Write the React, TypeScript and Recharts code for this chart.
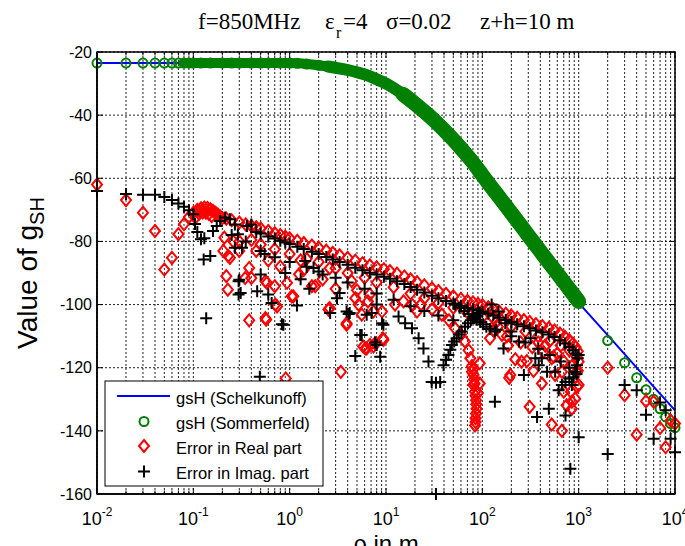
import React from "react";
import { ComposedChart, Line, Scatter, XAxis, YAxis, CartesianGrid } from "recharts";

// plot box (px) -- chart margins are chosen so the axes land here
const PLOT = { left: 97, right: 675, top: 52, bottom: 494 };

const xTicks = [
  0.01, 0.02, 0.03, 0.04, 0.05, 0.06, 0.07, 0.08, 0.09,
  0.1, 0.2, 0.3, 0.4, 0.5, 0.6, 0.7, 0.8, 0.9,
  1, 2, 3, 4, 5, 6, 7, 8, 9,
  10, 20, 30, 40, 50, 60, 70, 80, 90,
  100, 200, 300, 400, 500, 600, 700, 800, 900,
  1000, 2000, 3000, 4000, 5000, 6000, 7000, 8000, 9000,
  10000,
];
const xMajor = [0.01, 0.1, 1, 10, 100, 1000, 10000];
const xMajorExp = ["-2", "-1", "0", "1", "2", "3", "4"];
const yTicks = [-160, -140, -120, -100, -80, -60, -40, -20];

// gsH (Schelkunoff) - solid blue line
const schelX = [0.01, 0.1, 1, 2, 3, 5, 8, 10, 15, 20, 30, 50, 80, 100, 150, 200, 300, 500, 800, 1000, 2000, 5000, 10000];
const schelY = [-23.5, -23.5, -23.5, -24.2, -25, -26.4, -28.6, -30, -33.4, -36.4, -41, -47.8, -55, -59, -66, -71, -78.1, -87, -95.1, -99.5, -109.7, -123.3, -133.5];

// gsH (Sommerfeld) - green circles
const sommerX = [
  0.01, 0.02, 0.03, 0.04, 0.05, 0.06, 0.07, 0.08, 0.09, 0.1, 0.12, 0.15, 0.2, 0.25, 0.3, 0.4, 0.5, 0.6, 0.8, 1,
  1.2, 1.5, 2, 2.5, 3, 4, 5, 6, 8, 10, 12, 15, 20, 25, 30, 40, 50, 60, 80, 100,
  120, 150, 200, 250, 300, 400, 500, 600, 800, 1000,
  2000, 3000, 4000, 5000, 6000, 7000, 8000, 9000, 10000,
];
const sommerY = [
  -23.5, -23.5, -23.5, -23.5, -23.5, -23.5, -23.5, -23.5, -23.5, -23.5, -23.5, -23.5, -23.5, -23.5, -23.5, -23.5, -23.5, -23.5, -23.5, -23.5,
  -23.6, -23.8, -24.2, -24.6, -25, -25.7, -26.4, -27.1, -28.6, -30, -31.4, -33.4, -36.4, -38.9, -41, -44.7, -47.8, -50.5, -55, -59,
  -62.2, -66, -71, -74.9, -78.1, -83.1, -87, -90.1, -95.1, -99,
  -111.4, -118.4, -123.2, -127, -130, -133, -135.6, -137.7, -139,
];

// Error in Real part - red diamonds
const realLeft: [number, number][] = [
  [0.01, -62], [0.02, -66.9], [0.03, -70.9], [0.04, -76.7], [0.05, -88.9], [0.06, -85.2], [0.07, -77.7], [0.08, -74.5],
  [0.09, -72.3], [0.1, -70.9], [0.11, -70], [0.12, -69.5], [0.13, -69.3], [0.14, -69.4], [0.15, -69.8], [0.16, -70.3],
  [0.17, -70.9], [0.18, -71.5], [0.19, -72.1], [0.2, -72.6], [0.105, -72.5], [0.115, -71.2], [0.125, -70.8],
  [0.135, -70.9], [0.145, -71.3], [0.155, -72],
];
const realEnvelope: [number, number][] = [
  [0.22, -72.8], [0.25, -73.3], [0.3, -74], [0.35, -74.6], [0.4, -75.1], [0.45, -75.5], [0.5, -75.9], [0.6, -76.7],
  [0.7, -77.4], [0.8, -78], [0.9, -78.5], [1, -79], [1.2, -79.8], [1.4, -80.5], [1.7, -81.3], [2, -82], [2.4, -82.9],
  [2.8, -83.6], [3.3, -84.4], [4, -85.2], [4.8, -86.1], [5.7, -86.9], [6.8, -87.6], [8, -88.2], [9.5, -88.8], [11, -89.4],
  [13, -90.2], [15.5, -91.1], [18, -92], [21, -92.9], [25, -93.9], [30, -94.9], [35, -95.7], [42, -96.6], [50, -97.4],
  [60, -98.2], [70, -98.8], [80, -99.3], [90, -99.8], [100, -100.2], [115, -100.9], [130, -101.5], [150, -102.2],
  [175, -102.9], [200, -103.5], [230, -104.2], [270, -104.9], [310, -105.5], [360, -106.2], [420, -106.8], [490, -107.4],
  [560, -108.2], [640, -109.2], [720, -110.2], [800, -111.3], [870, -112.4], [930, -113.5], [980, -114.8],
];
const realInner: [number, number][] = [
  [0.3, -80], [0.4, -79.5], [0.5, -81], [0.7, -82.5], [1, -84], [1.5, -85.5], [2, -86.5], [3, -88.5], [4, -90], [6, -91.5],
  [8, -93], [12, -94.5], [18, -96.5], [25, -98], [35, -99.5], [50, -101], [70, -102.5], [100, -104], [140, -105.5],
  [200, -107], [280, -108.5], [380, -110], [500, -111.5], [650, -113], [800, -114.5], [950, -116.5],
  [130, -108], [180, -110], [250, -112], [330, -113.5], [430, -115], [550, -116.5], [700, -118], [850, -119.5], [980, -121],
];
const realArc: [number, number][] = [
  [23, -100], [30, -101.5], [38, -103.2], [45, -105], [52, -107.5], [60, -109.5], [66, -111.7], [72, -114.5], [75, -117],
  [78, -119.5], [81, -122.3], [83, -125], [84, -127.6], [86, -130.3], [87, -133], [85, -136], [84, -138.3], [78, -121.3],
  [94, -118.6], [81, -125.5], [94, -125], [90, -128], [80, -120.5], [82, -123.7], [85, -128.9], [86.5, -131.6],
  [86, -134.5], [85, -137.2],
];
const realScatter: [number, number][] = [
  [0.21, -78.8], [0.205, -83], [0.23, -84.6], [0.22, -91], [0.228, -95.3], [0.24, -85.2], [0.38, -105], [0.38, -88.4],
  [0.4, -91.6], [0.345, -91.6], [0.56, -104.3], [0.57, -104.8], [0.91, -123.4], [0.74, -100.6], [1.09, -97.4], [1.25, -90.4],
  [0.56, -92.6], [0.7, -94.2], [0.94, -93.1], [1.05, -97.4], [0.71, -100], [0.58, -93.1], [1.84, -94.2], [1.7, -94.2],
  [2.6, -101.1], [2.53, -101.6], [3.9, -105.9], [3.9, -106.4], [4.8, -98], [4.4, -92.6], [5.2, -100], [5.6, -103.2],
  [6.5, -99], [6.8, -96.8], [7.4, -102.2], [9.1, -102.2], [6.3, -113.9], [6.1, -113.9], [5.8, -113.3], [6.8, -112.8],
  [7.4, -113.3], [7.7, -112.3], [9.4, -111.2], [9.3, -110.7], [3.4, -121.3], [12.4, -100], [15.2, -99], [18.6, -100],
  [21, -102.2], [0.26, -80], [0.3, -83], [0.45, -83], [0.6, -86], [0.8, -88], [1.4, -89], [2.2, -92], [3, -95], [5, -95.5],
  [1.3, -86], [2.6, -88.5],
];
const realRight: [number, number][] = [
  [116, -101], [120, -110.7], [130, -104.3], [145, -107], [160, -109.6], [185, -113], [190, -123.2], [220, -117.3],
  [255, -118.1], [290, -117.9], [195, -122.3], [310, -132.4], [340, -121], [415, -125], [525, -117], [570, -122.3],
  [670, -121.3], [700, -127.6], [750, -131.9], [830, -127.6], [850, -130.8], [850, -133], [920, -129.8], [960, -126],
  [1000, -125.5], [960, -121.3], [1000, -118.1], [525, -138], [670, -140], [600, -115.5], [450, -113], [380, -112],
];
const realTail: [number, number][] = [
  [2000, -120], [3000, -128.7], [4000, -141.2], [5000, -130.6], [6000, -130.8], [7000, -139.1], [8000, -145.2],
  [9000, -136.7], [10000, -137.7],
];

// Error in Imag. part - black plus
const imagLeft: [number, number][] = [
  [0.01, -64], [0.02, -65], [0.03, -65.2], [0.04, -65.2], [0.05, -65.9], [0.06, -66.9], [0.07, -68], [0.08, -69],
  [0.09, -70.1], [0.1, -71.4], [0.104, -74.5], [0.11, -77], [0.12, -79.3], [0.13, -79], [0.128, -85.7], [0.15, -84.6],
  [0.136, -104.3], [0.16, -76.7], [0.175, -75.1], [0.19, -73.5], [0.214, -72.4], [0.24, -73], [0.27, -74.6], [0.29, -77.7],
  [0.32, -82], [0.295, -92.6], [0.295, -96.8], [0.36, -75.1], [0.4, -74.6],
];
const imagEnvelope: [number, number][] = [
  [0.45, -77], [0.5, -77.5], [0.6, -78.4], [0.7, -79.1], [0.8, -79.8], [0.9, -80.3], [1, -80.8], [1.2, -81.7], [1.4, -82.4],
  [1.7, -83.3], [2, -84], [2.4, -84.9], [2.8, -85.7], [3.3, -86.5], [4, -87.4], [4.8, -88.3], [5.7, -89.1], [6.8, -89.9],
  [8, -90.5], [9.5, -91.2], [11, -91.8], [13, -92.6], [15.5, -93.5], [18, -94.4], [21, -95.3], [25, -96.2], [30, -97.2],
  [35, -98], [42, -98.9], [50, -99.7], [60, -100.4], [70, -101], [80, -101.5], [90, -101.9], [100, -102.3], [115, -102.9],
  [130, -103.5], [150, -104.2], [175, -104.9], [200, -105.5], [230, -106.2], [270, -106.9], [310, -107.5], [360, -108.2],
  [420, -108.8], [490, -109.5], [560, -110.3], [640, -111.3], [720, -112.3], [800, -113.4], [870, -114.5], [930, -115.6],
  [980, -117],
];
const imagInner: [number, number][] = [
  [0.5, -83], [0.7, -85], [1, -86.5], [1.5, -88], [2, -89.5], [3, -91.5], [4, -93], [6, -95], [8, -96.5], [12, -98.5],
  [18, -100.5], [25, -102], [35, -103.5], [50, -105], [140, -108], [200, -110], [280, -112], [380, -114], [500, -116],
  [650, -118], [800, -120], [950, -122],
];
const imagScatter: [number, number][] = [
  [0.6, -96.8], [0.65, -99.5], [0.86, -106.4], [0.83, -106.2], [1.19, -100.3], [1.45, -86.2], [1.77, -88.4], [2.2, -90.5],
  [2.63, -102.7], [3.1, -98], [3.3, -96.3], [3.9, -102.2], [4.1, -103], [4.2, -102.7], [4.8, -116.3], [5.4, -109.6],
  [5.6, -109.6], [6.3, -103.2], [7.1, -102.7], [8.7, -116.5], [8, -112.8], [7.7, -112], [9.1, -105.9], [9.4, -106.4],
  [8, -100], [13.5, -103.8], [15.8, -105.9], [18.6, -107.5], [0.46, -95.8], [0.3, -92.1], [0.31, -96.3], [0.5, -90.5],
  [0.49, -122.9], [0.25, -78], [0.27, -82], [0.35, -80], [0.55, -84], [0.9, -90], [1.3, -92], [1.6, -95],
];
const imagArc: [number, number][] = [
  [21.8, -110.7], [24.5, -113.9], [27.6, -118], [29.8, -124.5], [33, -124.8], [36.5, -124.5], [39.6, -119.2], [42, -117.5],
  [44.5, -116], [46.5, -114.3], [48.3, -112.8], [51, -111.7], [54, -110.7], [57, -109.5], [61, -108.5], [66, -107],
  [71, -105.9], [76, -105], [83, -104.3], [88, -103.5], [94, -102.7], [52, -100], [58, -101], [65, -102], [72, -103],
  [80, -104], [87, -104.8], [95, -105.5], [102, -106.2], [110, -107], [120, -107.7], [135, -108.5], [33, -160],
];
const imagRight: [number, number][] = [
  [125, -100], [147, -102.2], [173, -105.9], [166, -113.9], [200, -108.5], [240, -111.7], [270, -122.3], [317, -110.7],
  [355, -117], [385, -119.2], [415, -117], [470, -121.3], [490, -133], [370, -135.6], [570, -121.3], [620, -127.1],
  [670, -125.5], [730, -124.5], [800, -123.4], [850, -125.5], [880, -123], [920, -121.3], [960, -119.2], [1000, -116],
  [730, -135.1], [1000, -142], [820, -152], [135, -130.8],
];
const imagTail: [number, number][] = [
  [2000, -147.3], [3000, -125.5], [4000, -127.1], [5000, -134.9], [6000, -142.5], [7000, -131], [8000, -133.5],
  [9000, -142.5], [10000, -146.8],
];

const toPts = (pairs: [number, number][]) => pairs.map(([x, y]) => ({ x, y }));
const zip = (xs: number[], ys: number[]) => xs.map((x, i) => ({ x, y: ys[i] }));

const schelData = zip(schelX, schelY);
const sommerData = zip(sommerX, sommerY);
// the Sommerfeld points are so dense that they merge into a thick band
const bandA = sommerData.filter((p) => p.x >= 0.08 && p.x <= 3);
const bandB = sommerData.filter((p) => p.x >= 2.5 && p.x <= 20);
const bandC = sommerData.filter((p) => p.x >= 15 && p.x <= 1000);
const realData = toPts([...realLeft, ...realEnvelope, ...realInner, ...realArc, ...realScatter, ...realRight, ...realTail]);
const imagData = toPts([...imagLeft, ...imagEnvelope, ...imagInner, ...imagScatter, ...imagArc, ...imagRight, ...imagTail]);

const GREEN = "#008000";
const SANS = "Arial, 'Liberation Sans', sans-serif";
const SERIF = "'Times New Roman', 'Liberation Serif', serif";

const Circle = (p: any) => <circle cx={p.cx} cy={p.cy} r={4.5} fill="none" stroke={GREEN} strokeWidth={2} />;
const Diamond = (p: any) => (
  <path d={`M${p.cx},${p.cy - 6}L${p.cx + 5},${p.cy}L${p.cx},${p.cy + 6}L${p.cx - 5},${p.cy}Z`} fill="none" stroke="#ff0000" strokeWidth={2} />
);
const Plus = (p: any) => (
  <path d={`M${p.cx - 6},${p.cy}H${p.cx + 6}M${p.cx},${p.cy - 6}V${p.cy + 6}`} stroke="#000" strokeWidth={2} />
);

const XTick = (props: any) => {
  const { x, payload } = props;
  const i = xMajor.indexOf(payload.value);
  const len = i >= 0 ? 6 : 3.5;
  return (
    <g>
      <line x1={x} x2={x} y1={PLOT.bottom} y2={PLOT.bottom - len} stroke="#000" />
      <line x1={x} x2={x} y1={PLOT.top} y2={PLOT.top + len} stroke="#000" />
      {i >= 0 && (
        <text x={x} y={525} textAnchor="middle" fontFamily={SANS} fontSize={18} fill="#000">
          10
          <tspan fontSize={12} dy={-9}>{xMajorExp[i]}</tspan>
        </text>
      )}
    </g>
  );
};

const YTick = (props: any) => {
  const { y, payload } = props;
  return (
    <g>
      <line x1={PLOT.left} x2={PLOT.left + 6} y1={y} y2={y} stroke="#000" />
      <line x1={PLOT.right} x2={PLOT.right - 6} y1={y} y2={y} stroke="#000" />
      <text x={PLOT.left - 5} y={y} dy="0.36em" textAnchor="end" fontFamily={SANS} fontSize={16} fill="#000">
        {payload.value}
      </text>
    </g>
  );
};

export default function App() {
  return (
    <div style={{ position: "fixed", left: 0, top: 0, width: 685, height: 546, background: "#fff" }}>
      <ComposedChart width={685} height={546} margin={{ top: PLOT.top, right: 685 - PLOT.right, bottom: 12, left: 0 }}>
        <CartesianGrid stroke="#222" strokeDasharray="2 2" strokeWidth={1} />
        <XAxis
          dataKey="x"
          type="number"
          scale="log"
          domain={[0.01, 10000]}
          ticks={xTicks}
          interval={0}
          tick={(p: any) => <XTick {...p} />}
          tickLine={false}
          axisLine={{ stroke: "#000", strokeWidth: 1.5 }}
          height={40}
        />
        <YAxis
          dataKey="y"
          type="number"
          domain={[-160, -20]}
          ticks={yTicks}
          interval={0}
          tick={(p: any) => <YTick {...p} />}
          tickLine={false}
          axisLine={{ stroke: "#000", strokeWidth: 1.5 }}
          width={PLOT.left}
        />
        <Line data={schelData} dataKey="y" type="linear" stroke="#0000ff" strokeWidth={2} dot={false} activeDot={false} isAnimationActive={false} />
        <Line data={bandA} dataKey="y" type="monotone" stroke={GREEN} strokeWidth={10} strokeLinecap="round" dot={false} activeDot={false} isAnimationActive={false} />
        <Line data={bandB} dataKey="y" type="monotone" stroke={GREEN} strokeWidth={12} strokeLinecap="round" dot={false} activeDot={false} isAnimationActive={false} />
        <Line data={bandC} dataKey="y" type="monotone" stroke={GREEN} strokeWidth={15} strokeLinecap="round" dot={false} activeDot={false} isAnimationActive={false} />
        <Scatter data={sommerData} dataKey="y" shape={Circle} isAnimationActive={false} />
        <Scatter data={realData} dataKey="y" shape={Diamond} isAnimationActive={false} />
        <Scatter data={imagData} dataKey="y" shape={Plus} isAnimationActive={false} />
      </ComposedChart>
      <svg width={685} height={546} style={{ position: "absolute", left: 0, top: 0, pointerEvents: "none" }}>
        <rect x={PLOT.left} y={PLOT.top} width={PLOT.right - PLOT.left} height={PLOT.bottom - PLOT.top} fill="none" stroke="#000" strokeWidth={1.5} />
        {/* title */}
        <text y={29} fontFamily={SERIF} fontSize={23} fill="#000">
          <tspan x={198}>f=850MHz</tspan>
          <tspan x={325}>ε</tspan>
          <tspan x={336} dy={9} fontSize={16}>r</tspan>
          <tspan x={343} dy={-9}>=4</tspan>
          <tspan x={386}>σ=0.02</tspan>
          <tspan x={480}>z+h=10 m</tspan>
        </text>
        {/* axis labels */}
        <text transform="translate(37,273) rotate(-90)" textAnchor="middle" fontFamily={SANS} fontSize={28} fill="#000">
          Value of g<tspan fontSize={20} dy={7}>SH</tspan>
        </text>
        <text x={386} y={552} textAnchor="middle" fontFamily={SANS} fontSize={24} fill="#000">
          ρ in m
        </text>
        {/* legend */}
        <rect x={105} y={381} width={218} height={105} fill="#fff" stroke="#000" strokeWidth={1} />
        <line x1={117} x2={170} y1={396} y2={396} stroke="#0000ff" strokeWidth={2} />
        <circle cx={144} cy={421.5} r={4.5} fill="none" stroke={GREEN} strokeWidth={2} />
        <path d="M144,440L149,446L144,452L139,446Z" fill="none" stroke="#ff0000" strokeWidth={2} />
        <path d="M138,471.5H150M144,465.5V477.5" stroke="#000" strokeWidth={2} />
        <g fontFamily={SANS} fontSize={16.5} fill="#000">
          <text x={176} y={404}>gsH (Schelkunoff)</text>
          <text x={176} y={429}>gsH (Sommerfeld)</text>
          <text x={176} y={454}>Error in Real part</text>
          <text x={176} y={479}>Error in Imag. part</text>
        </g>
      </svg>
    </div>
  );
}
